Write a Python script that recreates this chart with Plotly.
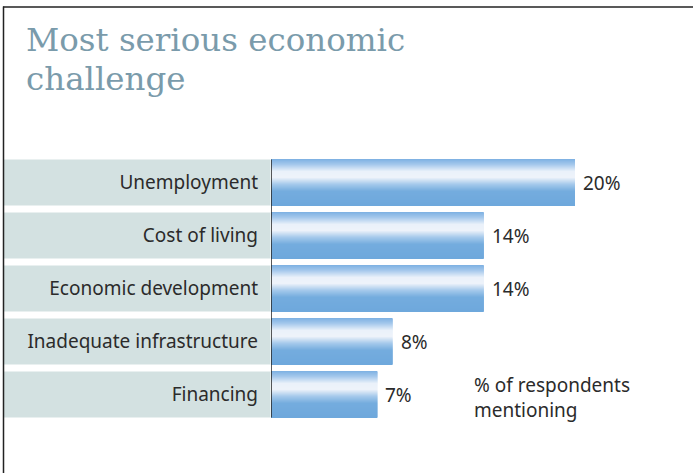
import plotly.graph_objects as go

# ---- data ----
categories = ["Unemployment", "Cost of living", "Economic development",
              "Inadequate infrastructure", "Financing"]
values = [20, 14, 14, 8, 7]
title_lines = ["Most serious economic", "challenge"]
note_lines = ["% of respondents", "mentioning"]

# ---- geometry ----
W, H = 694, 473
ML, MR, MT, MB = 271, 0, 156, 52
PW = W - ML - MR
PH = H - MT - MB
PX_PER_UNIT = 15.2
BAR_W = 0.868

def px2x(px):
    return (px - ML) / PW

def py2y(py):
    return (H - MB - py) / PH

def lerp(c1, c2, f):
    return tuple(int(round(a + (b - a) * f)) for a, b in zip(c1, c2))

stops = [(0.0, (124, 176, 226)), (0.12, (165, 200, 236)), (0.27, (234, 241, 250)),
         (0.40, (238, 243, 250)), (0.55, (165, 201, 235)), (0.70, (116, 172, 222)),
         (1.0, (110, 168, 220))]

def grad(t):
    for (t0, c0), (t1, c1) in zip(stops[:-1], stops[1:]):
        if t0 <= t <= t1:
            return "rgb(%d,%d,%d)" % lerp(c0, c1, (t - t0) / (t1 - t0))
    return "rgb(%d,%d,%d)" % stops[-1][1]

ypos = list(range(len(categories)))
fig = go.Figure()

N = 46
sw = BAR_W / N
for k in range(N):
    fig.add_trace(go.Bar(
        x=values, y=ypos, orientation="h",
        width=sw * 1.3 if k < N - 1 else sw, offset=-BAR_W / 2 + k * sw,
        marker=dict(color=grad((k + 0.5) / N), line=dict(width=0)),
        hoverinfo="skip", showlegend=False,
    ))

shapes = []
for i in ypos:
    shapes.append(dict(type="rect", xref="paper", yref="y",
                       x0=px2x(4), x1=px2x(270.5), y0=i - BAR_W / 2, y1=i + BAR_W / 2,
                       fillcolor="#d3e1e1", line=dict(width=0), layer="below"))
# axis line
shapes.append(dict(type="line", xref="x", yref="y", x0=0, x1=0,
                   y0=-BAR_W / 2, y1=len(categories) - 1 + BAR_W / 2,
                   line=dict(color="#222222", width=1.5)))
# frame
shapes.append(dict(type="line", xref="paper", yref="paper", x0=px2x(3.5), x1=px2x(3.5),
                   y0=py2y(6.5), y1=py2y(H + 2), line=dict(color="#222222", width=1.5)))
shapes.append(dict(type="line", xref="paper", yref="paper", x0=px2x(3), x1=px2x(693),
                   y0=py2y(7), y1=py2y(7), line=dict(color="#222222", width=1.5)))

lab_font = dict(family="Noto Sans", size=19, color="#2b2b2b")
annotations = []
for i, v in zip(ypos, values):
    annotations.append(dict(x=v, y=i, xref="x", yref="y", text=f"{v}%",
                            showarrow=False, xanchor="left", yanchor="middle",
                            xshift=6, font=lab_font))
for j, line in enumerate(title_lines):
    annotations.append(dict(xref="paper", yref="paper", x=px2x(24), y=py2y(40 + j * 39),
                            xanchor="left", yanchor="middle", showarrow=False, text=line,
                            font=dict(family="DejaVu Serif", size=32.5, color="#7a9bab")))
annotations.append(dict(xref="paper", yref="paper", x=px2x(472), y=py2y(397),
                        xanchor="left", yanchor="middle", align="left", showarrow=False,
                        text="<br>".join(note_lines), font=lab_font))

fig.update_layout(
    width=W, height=H, margin=dict(l=ML, r=MR, t=MT, b=MB),
    paper_bgcolor="white", plot_bgcolor="white", barmode="overlay",
    xaxis=dict(range=[0, PW / PX_PER_UNIT], visible=False, fixedrange=True),
    yaxis=dict(range=[len(categories) - 0.5, -0.5], tickvals=ypos, ticktext=categories,
               showgrid=False, zeroline=False, showline=False, ticks="",
               ticklabelstandoff=12, fixedrange=True, tickfont=lab_font),
    shapes=shapes, annotations=annotations, showlegend=False,
)

fig.write_html("out.html", config={"displayModeBar": False},
               post_script="document.body.style.margin='0';document.body.style.overflow='hidden';")
